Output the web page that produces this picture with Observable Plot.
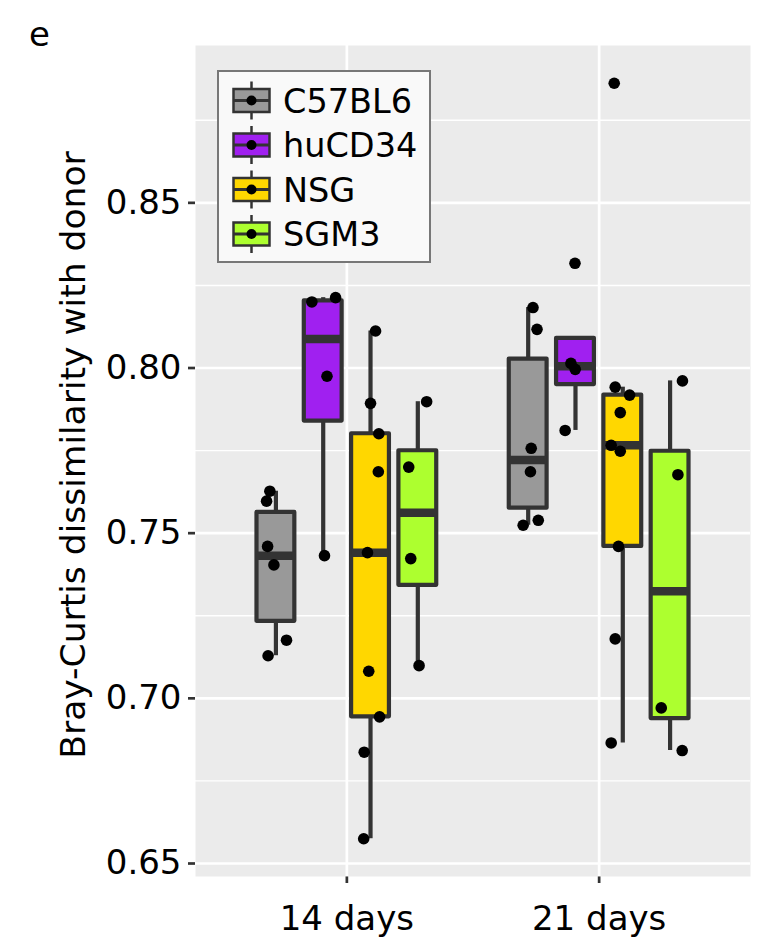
<!DOCTYPE html>
<html><head><meta charset="utf-8">
<script src="https://cdn.jsdelivr.net/npm/d3@7"></script>
<script src="https://cdn.jsdelivr.net/npm/@observablehq/plot@0.6"></script>
<style>
body{margin:0;background:#fff;}
#wrap{position:relative;width:763px;height:939px;}
#wrap svg.overlay{position:absolute;left:0;top:0;pointer-events:none;font-family:"DejaVu Sans",sans-serif;}
#wrap svg.main text{font-family:"DejaVu Sans",sans-serif;font-size:34px;fill:#000;}
#wrap svg.main g[aria-label^="x-axis"] line,#wrap svg.main g[aria-label^="x-axis"] path,
#wrap svg.main g[aria-label^="y-axis"] line,#wrap svg.main g[aria-label^="y-axis"] path{stroke:#333;stroke-width:2.7px;}
</style></head><body><div id="wrap"></div>
<script>
// ---- data ----
const days = ["14 days", "21 days"];
const groups = ["C57BL6", "huCD34", "NSG", "SGM3"];
const colors = ["#999999", "#A020F0", "#FFD700", "#ADFF2F"];
const yTicks = [0.65, 0.70, 0.75, 0.80, 0.85];
const yMinor = [0.675, 0.725, 0.775, 0.825, 0.875];

// values (Bray-Curtis dissimilarity) and horizontal jitter (x units) per day/group
const c57bl6_14 = [0.7627, 0.7597, 0.7460, 0.7404, 0.7176, 0.7129];
const c57bl6_14_jit = [-0.024, -0.037, -0.033, -0.008, 0.042, -0.031];
const hucd34_14 = [0.8200, 0.8213, 0.7975, 0.7432];
const hucd34_14_jit = [-0.045, 0.049, 0.015, 0.005];
const nsg_14 = [0.8112, 0.7893, 0.7801, 0.7686, 0.7441, 0.7082, 0.6944, 0.6837, 0.6575];
const nsg_14_jit = [0.020, 0.000, 0.033, 0.031, -0.012, -0.007, 0.036, -0.025, -0.027];
const sgm3_14 = [0.7898, 0.7700, 0.7423, 0.7099];
const sgm3_14_jit = [0.035, -0.036, -0.028, 0.005];

const c57bl6_21 = [0.8183, 0.8117, 0.7757, 0.7686, 0.7539, 0.7524];
const c57bl6_21_jit = [0.019, 0.035, 0.012, 0.009, 0.040, -0.020];
const hucd34_21 = [0.8317, 0.8014, 0.7996, 0.7811];
const hucd34_21_jit = [-0.002, -0.018, -0.001, -0.041];
const nsg_21 = [0.8862, 0.7942, 0.7918, 0.7865, 0.7766, 0.7748, 0.7460, 0.7180, 0.6865];
const nsg_21_jit = [-0.034, -0.030, 0.027, -0.010, -0.046, -0.010, -0.017, -0.030, -0.046];
const sgm3_21 = [0.7961, 0.7677, 0.6971, 0.6842];
const sgm3_21_jit = [0.049, 0.031, -0.035, 0.048];

const series = [
  [c57bl6_14, c57bl6_14_jit, c57bl6_21, c57bl6_21_jit],
  [hucd34_14, hucd34_14_jit, hucd34_21, hucd34_21_jit],
  [nsg_14, nsg_14_jit, nsg_21, nsg_21_jit],
  [sgm3_14, sgm3_14_jit, sgm3_21, sgm3_21_jit]
];

// ---- derived tables ----
const dodge = 0.75, boxW = 0.15;
const slot = dodge / groups.length;
const center = (di, gi) => di + 1 + (gi - (groups.length - 1) / 2) * slot;

const points = [], boxes = [];
groups.forEach((g, gi) => {
  days.forEach((day, di) => {
    const vals = series[gi][di * 2], jit = series[gi][di * 2 + 1];
    const xc = center(di, gi);
    vals.forEach((v, k) => points.push({group: g, day, value: v, x: xc + jit[k]}));
    const s = vals.slice().sort(d3.ascending);
    const q1 = d3.quantile(s, 0.25), med = d3.quantile(s, 0.5), q3 = d3.quantile(s, 0.75);
    const iqr = q3 - q1;
    const lo = d3.min(s.filter(v => v >= q1 - 1.5 * iqr));
    const hi = d3.max(s.filter(v => v <= q3 + 1.5 * iqr));
    boxes.push({group: g, day, xc, x1: xc - boxW / 2, x2: xc + boxW / 2, q1, med, q3, lo, hi});
  });
});

const allVals = points.map(d => d.value);
const [vmin, vmax] = d3.extent(allVals);
const pad = (vmax - vmin) * 0.05;

const chart = Plot.plot({
  width: 763, height: 939,
  marginLeft: 195, marginRight: 13, marginTop: 45, marginBottom: 63,
  className: "main",
  style: {fontFamily: "DejaVu Sans", fontSize: "34px", color: "#000", background: "transparent", overflow: "visible"},
  x: {domain: [0.4, days.length + 0.6], ticks: days.map((d, i) => i + 1), tickFormat: v => days[v - 1], tickSize: 7, tickPadding: 22, label: null},
  y: {domain: [vmin - pad, vmax + pad], ticks: yTicks, tickFormat: d3.format(".2f"), tickSize: 7, tickPadding: 7, label: null},
  color: {domain: groups, range: colors},
  marks: [
    Plot.frame({fill: "#EBEBEB", stroke: "none"}),
    Plot.ruleY(yMinor, {stroke: "#fff", strokeWidth: 1.4}),
    Plot.ruleY(yTicks, {stroke: "#fff", strokeWidth: 2.7}),
    Plot.ruleX(days.map((d, i) => i + 1), {stroke: "#fff", strokeWidth: 2.7}),
    Plot.ruleX(boxes, {x: "xc", y1: "lo", y2: "q1", stroke: "#333", strokeWidth: 4.2}),
    Plot.ruleX(boxes, {x: "xc", y1: "q3", y2: "hi", stroke: "#333", strokeWidth: 4.2}),
    Plot.rect(boxes, {x1: "x1", x2: "x2", y1: "q1", y2: "q3", fill: "group", stroke: "#333", strokeWidth: 4.2, strokeLinejoin: "round"}),
    Plot.ruleY(boxes, {x1: "x1", x2: "x2", y: "med", stroke: "#333", strokeWidth: 8.5}),
    Plot.dot(points, {x: "x", y: "value", r: 5.8, fill: "#000", stroke: "none"})
  ]
});

const wrap = document.getElementById("wrap");
wrap.appendChild(chart);

// ---- overlay: panel tag, y title, legend ----
const ov = d3.select(wrap).append("svg").attr("class", "overlay").attr("width", 763).attr("height", 939);
ov.append("text").attr("x", 29).attr("y", 46).attr("font-size", 34).attr("fill", "#000").text("e");
ov.append("text").attr("transform", "translate(85,455) rotate(-90)").attr("text-anchor", "middle")
  .attr("font-size", 34.5).attr("fill", "#000").text("Bray-Curtis dissimilarity with donor");

const lg = ov.append("g");
lg.append("rect").attr("x", 218).attr("y", 71).attr("width", 212).attr("height", 191)
  .attr("fill", "#F9F9F9").attr("stroke", "#777").attr("stroke-width", 2);
groups.forEach((g, i) => {
  const cy = 100.5 + i * 44.5;
  lg.append("line").attr("x1", 251.5).attr("x2", 251.5).attr("y1", cy - 19).attr("y2", cy + 19).attr("stroke", "#333").attr("stroke-width", 2.5);
  lg.append("rect").attr("x", 233.5).attr("y", cy - 11.5).attr("width", 36).attr("height", 23)
    .attr("fill", colors[i]).attr("stroke", "#333").attr("stroke-width", 2.5);
  lg.append("line").attr("x1", 233.5).attr("x2", 269.5).attr("y1", cy).attr("y2", cy).attr("stroke", "#333").attr("stroke-width", 3);
  lg.append("circle").attr("cx", 251.5).attr("cy", cy).attr("r", 5).attr("fill", "#000");
  lg.append("text").attr("x", 283).attr("y", cy + 12).attr("font-size", 33.5).attr("fill", "#000").text(g);
});
</script></body></html>
